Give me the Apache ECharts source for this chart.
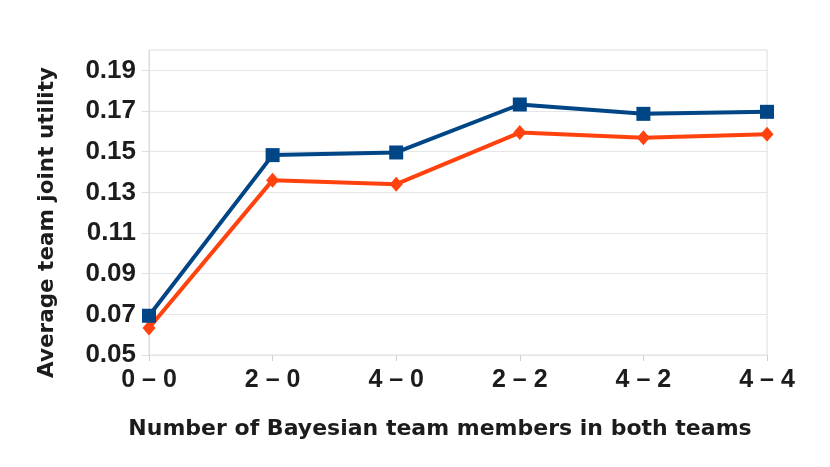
<!DOCTYPE html>
<html>
<head>
<meta charset="utf-8">
<script src="https://cdn.jsdelivr.net/npm/echarts@6/dist/echarts.min.js"></script>
<style>
html,body{margin:0;padding:0;background:#fff;}
#chart{width:830px;height:467px;}
</style>
</head>
<body>
<div id="chart"></div>
<script>
const categories = ['0 – 0', '2 – 0', '4 – 0', '2 – 2', '4 – 2', '4 – 4'];
const blueSeries = [0.0693, 0.1483, 0.1496, 0.1732, 0.1686, 0.1696];
const orangeSeries = [0.0633, 0.1360, 0.1340, 0.1594, 0.1568, 0.1586];
const yTicks = [0.05, 0.07, 0.09, 0.11, 0.13, 0.15, 0.17, 0.19];
const yTitle = 'Average team joint utility';
const xTitle = 'Number of Bayesian team members in both teams';

const chart = echarts.init(document.getElementById('chart'), null, {renderer: 'canvas'});
const textColor = '#1c1c1c';
chart.setOption({
  animation: false,
  backgroundColor: '#ffffff',
  grid: {
    left: 149, right: 63, top: 50, bottom: 112,
    show: true, borderColor: '#dcdcdc', borderWidth: 1, backgroundColor: 'transparent'
  },
  xAxis: {
    type: 'category',
    data: categories,
    boundaryGap: false,
    axisLine: {show: false},
    axisTick: {show: true, length: 6, lineStyle: {color: '#cfcfcf'}},
    axisLabel: {
      margin: 13, color: textColor, fontSize: 25, fontWeight: 'bold',
      fontFamily: 'Liberation Sans'
    },
    splitLine: {show: false},
    name: xTitle,
    nameLocation: 'middle',
    nameGap: 63,
    nameTextStyle: {
      color: textColor, fontSize: 22, fontWeight: 'bold', fontFamily: 'DejaVu Sans',
      padding: [0, 36, 0, 0]
    }
  },
  yAxis: {
    type: 'value',
    min: 0.05,
    max: 0.2,
    axisLine: {show: true, lineStyle: {color: '#dcdcdc'}},
    axisTick: {show: true, length: 7, customValues: yTicks, lineStyle: {color: '#dcdcdc'}},
    axisLabel: {
      customValues: yTicks,
      formatter: v => v.toFixed(2),
      margin: 13, color: textColor, fontSize: 26, fontWeight: 'bold',
      fontFamily: 'Liberation Sans'
    },
    splitLine: {show: true, lineStyle: {color: '#e6e6e6', width: 1}},
    name: yTitle,
    nameLocation: 'middle',
    nameGap: 91,
    nameTextStyle: {
      color: textColor, fontSize: 21.5, fontWeight: 'bold', fontFamily: 'DejaVu Sans',
      padding: [0, 40, 0, 0]
    }
  },
  series: [
    {
      name: 'Series A',
      type: 'line',
      data: blueSeries,
      symbol: 'rect',
      symbolSize: 14,
      lineStyle: {color: '#004586', width: 4},
      itemStyle: {color: '#004586'},
      z: 3
    },
    {
      name: 'Series B',
      type: 'line',
      data: orangeSeries,
      symbol: 'diamond',
      symbolSize: [13, 15],
      lineStyle: {color: '#ff420e', width: 4},
      itemStyle: {color: '#ff420e'},
      z: 2
    }
  ]
});
</script>
</body>
</html>
